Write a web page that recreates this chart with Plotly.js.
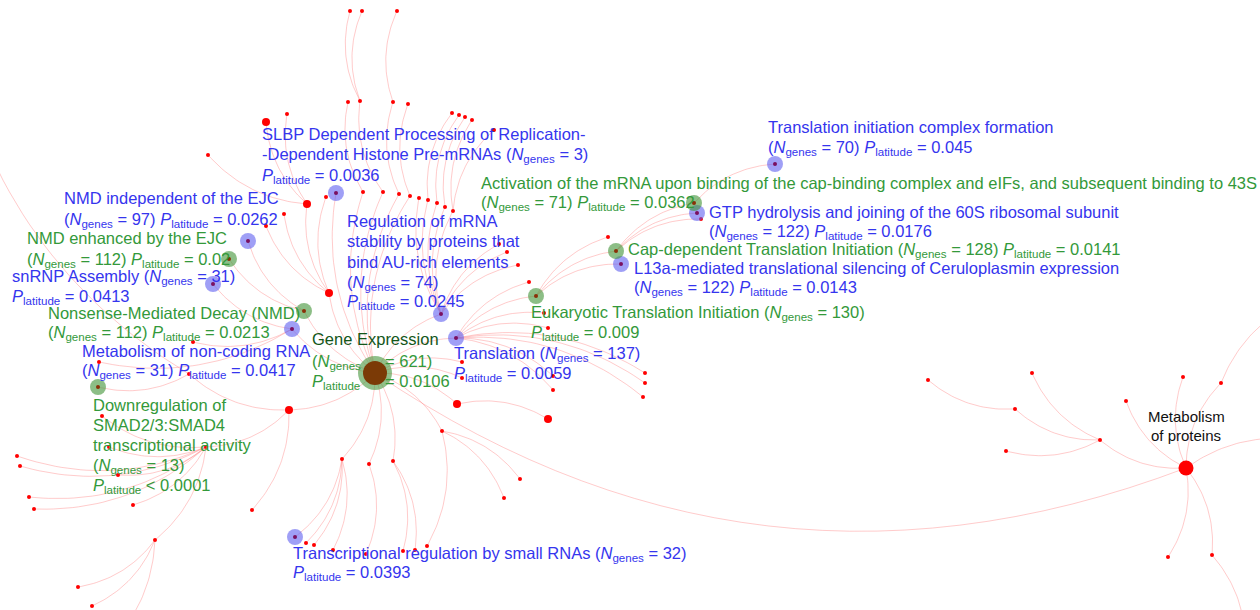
<!DOCTYPE html>
<html>
<head>
<meta charset="utf-8">
<script src="https://cdn.plot.ly/plotly-3.0.1.min.js"></script>
<style>
  html, body { margin: 0; padding: 0; background: #ffffff; }
  #chart { width: 1260px; height: 610px; }
</style>
</head>
<body>
<div id="chart"></div>
<script>
// Reactome pathway network around "Gene Expression" and "Metabolism of proteins".
// Node coordinates come from the network layout; each node lists its parent.
const nodeId = [
  'MoP','GE',
  'SLBP','NMDi','snRNP','MNC','Reg','Trl','TICF','GTP','L13a','TRS',
  'NMDe','NMD','SMAD','Act','Cap','EuTI',
  'r1','r2','A','r3','r4','r5',
  'a1','a2','b1','b2','b3',
  'p1','p2','p3','p4','q1','q2','q3','q4','t1','t2','t3',
  'g1','g2','g3','g4','g5','g6','g7','g8',
  'h1','h2','h3','h4','h5',
  'm1','m2',
  'C','D','a3','c1',
  'd1','d2','d3','d4','d5','E','d6','d7','d8',
  'e1','e2','e3',
  'B','F','G','H','s1','s2',
  'bb1','bb2','bb3','f1','gg1','gg2','hh1','hh2','hh3',
  'tr1','tr2','tr3','tr4','tr5','tr6','tr7','tr8',
  'eu1','cp1',
  'I','mp1','mp2','J','mp3','K','mp4',
  'L','i1','i2','l1','j1','k1'
];
const nodeX = [
  1186,375,
  336,248,213,292,441,456,775,697,621,295,
  229,304,98,694,616,536,
  307,329,289,266,457,548,
  287,208,284,266,326,
  363,383,399,410,348,360,393,408,350,362,397,
  419,428,437,445,453,499,507,518,
  452,459,465,472,494,
  193,99,
  189,206,252,-40,
  17,20,29,34,133,155,109,118,102,
  78,92,105,
  342,369,393,442,462,462,
  306,314,333,366,403,415,520,504,427,
  529,544,548,553,553,645,645,643,
  608,701,
  1100,1126,1183,1221,1168,1212,1300,
  1015,1032,1006,928,1300,1245
];
const nodeY = [
  468,373,
  193,241,284,329,314,338,164,213,264,537,
  259,311,387,203,251,296,
  204,293,410,122,404,419,
  114,155,214,226,197,
  192,192,194,196,102,101,102,104,11,11,11,
  198,200,203,207,211,244,252,265,
  113,115,117,120,130,
  342,362,
  374,447,510,70,
  456,466,497,509,505,540,447,475,416,
  587,606,650,
  459,464,461,431,362,378,
  543,545,550,554,551,550,479,498,546,
  282,313,328,376,390,373,383,397,
  237,219,
  440,401,377,383,557,555,440,
  409,373,451,380,300,650
];
const nodeParent = [
  null,'MoP',
  'GE','NMD','MNC','GE','GE','GE','Act','Cap','EuTI','B',
  'NMD','GE','C','Cap','EuTI','Trl',
  'r2','GE','GE','r1','GE','r4',
  'r1','r1','r2','r2','r2',
  'GE','GE','GE','GE','p1','p2','p3','p4','q2','q2','q3',
  'Reg','Reg','Reg','Reg','Reg','Reg','Reg','Reg',
  'g2','g3','g4','g5','g5',
  'MNC','MNC',
  'A','A','A','C',
  'D','D','D','D','D','D','D','D','D',
  'E','E','E',
  'GE','GE','GE','GE','GE','GE',
  'B','B','B','F','G','G','H','H','H',
  'Trl','Trl','Trl','Trl','Trl','Trl','Trl','Trl',
  'EuTI','Cap',
  'MoP','MoP','MoP','MoP','MoP','MoP','MoP',
  'I','I','I','L','J','K'
];
// Node type: root / hub / enriched (blue or green) / large or small unlabelled node
const nodeKind = [
  'root','hub',
  'blue','blue','blue','blue','blue','blue','blue','blue','blue','blue',
  'green','green','green','green','green','green',
  'big','big','big','big','big','big'
];
for (let i = nodeKind.length; i < nodeId.length; i++) nodeKind.push('small');

// Pathway labels, one entry per text line
const labelText = [
  'SLBP Dependent Processing of Replication-',
  '-Dependent Histone Pre-mRNAs (<i>N</i><sub>genes</sub> = 3)',
  '<i>P</i><sub>latitude</sub> = 0.0036',
  'NMD independent of the EJC',
  '(<i>N</i><sub>genes</sub> = 97) <i>P</i><sub>latitude</sub> = 0.0262',
  'NMD enhanced by the EJC',
  '(<i>N</i><sub>genes</sub> = 112) <i>P</i><sub>latitude</sub> = 0.02',
  'snRNP Assembly (<i>N</i><sub>genes</sub> = 31)',
  '<i>P</i><sub>latitude</sub> = 0.0413',
  'Nonsense-Mediated Decay (NMD)',
  '(<i>N</i><sub>genes</sub> = 112) <i>P</i><sub>latitude</sub> = 0.0213',
  'Metabolism of non-coding RNA',
  '(<i>N</i><sub>genes</sub> = 31) <i>P</i><sub>latitude</sub> = 0.0417',
  'Downregulation of',
  'SMAD2/3:SMAD4',
  'transcriptional activity',
  '(<i>N</i><sub>genes</sub> = 13)',
  '<i>P</i><sub>latitude</sub> &lt; 0.0001',
  'Gene Expression',
  '(<i>N</i><sub>genes</sub>',
  '= 621)',
  '<i>P</i><sub>latitude</sub>',
  '= 0.0106',
  'Regulation of mRNA',
  'stability by proteins that',
  'bind AU-rich elements',
  '(<i>N</i><sub>genes</sub> = 74)',
  '<i>P</i><sub>latitude</sub> = 0.0245',
  'Translation (<i>N</i><sub>genes</sub> = 137)',
  '<i>P</i><sub>latitude</sub> = 0.0059',
  'Eukaryotic Translation Initiation (<i>N</i><sub>genes</sub> = 130)',
  '<i>P</i><sub>latitude</sub> = 0.009',
  'Cap-dependent Translation Initiation (<i>N</i><sub>genes</sub> = 128) <i>P</i><sub>latitude</sub> = 0.0141',
  'L13a-mediated translational silencing of Ceruloplasmin expression',
  '(<i>N</i><sub>genes</sub> = 122) <i>P</i><sub>latitude</sub> = 0.0143',
  'GTP hydrolysis and joining of the 60S ribosomal subunit',
  '(<i>N</i><sub>genes</sub> = 122) <i>P</i><sub>latitude</sub> = 0.0176',
  'Activation of the mRNA upon binding of the cap-binding complex and eIFs, and subsequent binding to 43S',
  '(<i>N</i><sub>genes</sub> = 71) <i>P</i><sub>latitude</sub> = 0.0362',
  'Translation initiation complex formation',
  '(<i>N</i><sub>genes</sub> = 70) <i>P</i><sub>latitude</sub> = 0.045',
  'Transcriptional regulation by small RNAs (<i>N</i><sub>genes</sub> = 32)',
  '<i>P</i><sub>latitude</sub> = 0.0393',
  'Metabolism',
  'of proteins'
];
const labelGroup = [
  'b','b','b','b','b','g','g','b','b','g','g','b','b',
  'g','g','g','g','g',
  'd','g','g','g','g',
  'b','b','b','b','b','b','b',
  'g','g','g','b','b','b','b','g','g','b','b','b','b',
  'k','k'
];

// Label placement (left edge, line centre) in layout pixels
const labelPos = [
  [260,134],[260,155],[260,176],
  [62,198],[62,220],
  [25,238],[25,260],
  [10,277],[10,297],
  [46,313],[46,333],
  [80,351],[80,371],
  [91,405],[91,425],[91,445],[91,466],[91,486],
  [310,339],[310,362],[383,361],[310,382],[383,381],
  [345,221],[345,241],[345,262],[345,283],[345,302],
  [452,354],[452,374],
  [529,313],[529,333],
  [626,250],
  [632,268],[632,288],
  [707,212],[707,232],
  [479,183],[479,203],
  [766,127],[766,148],
  [291,554],[291,573],
  [1186,416],[1186,435]
];

const idx = {};
nodeId.forEach((id, i) => { idx[id] = i; });

// Curved edges: quadratic Bezier from parent to child, bent to one side
const BEND = 0.2;
const ex = [], ey = [];
nodeId.forEach((id, i) => {
  const p = nodeParent[i];
  if (p === null) return;
  const j = idx[p];
  const x0 = nodeX[j], y0 = nodeY[j], x2 = nodeX[i], y2 = nodeY[i];
  const dx = x2 - x0, dy = y2 - y0;
  const k = id === 'GE' ? 0.26 : BEND;
  const cx = (x0 + x2) / 2 + k * dy, cy = (y0 + y2) / 2 - k * dx;
  for (let s = 0; s <= 30; s++) {
    const t = s / 30, u = 1 - t;
    ex.push(u * u * x0 + 2 * u * t * cx + t * t * x2);
    ey.push(u * u * y0 + 2 * u * t * cy + t * t * y2);
  }
  ex.push(null); ey.push(null);
});

function pick(kind) {
  const xs = [], ys = [], names = [];
  nodeId.forEach((id, i) => {
    if (nodeKind[i] === kind) { xs.push(nodeX[i]); ys.push(nodeY[i]); names.push(id); }
  });
  return { xs, ys, names };
}
const small = pick('small'), big = pick('big'), blue = pick('blue'),
      green = pick('green'), hub = pick('hub'), root = pick('root');

const traces = [
  { x: ex, y: ey, mode: 'lines', line: { color: 'rgba(255,130,130,0.42)', width: 1 }, hoverinfo: 'skip' },
  { x: small.xs, y: small.ys, mode: 'markers', marker: { color: '#ff0000', size: 4 }, text: small.names },
  { x: big.xs, y: big.ys, mode: 'markers', marker: { color: '#ff0000', size: 8 }, text: big.names },
  { x: blue.xs, y: blue.ys, mode: 'markers', marker: { color: 'rgba(90,90,240,0.58)', size: 16 }, text: blue.names },
  { x: blue.xs, y: blue.ys, mode: 'markers', marker: { color: '#7a1060', size: 4 }, hoverinfo: 'skip' },
  { x: green.xs, y: green.ys, mode: 'markers', marker: { color: 'rgba(70,150,60,0.62)', size: 16 }, text: green.names },
  { x: green.xs, y: green.ys, mode: 'markers', marker: { color: '#8a3008', size: 4 }, hoverinfo: 'skip' },
  { x: hub.xs, y: hub.ys, mode: 'markers', marker: { color: 'rgba(70,150,60,0.6)', size: 34 }, hoverinfo: 'skip' },
  { x: hub.xs, y: hub.ys, mode: 'markers', marker: { color: '#7b3a06', size: 24 }, text: hub.names },
  { x: root.xs, y: root.ys, mode: 'markers', marker: { color: '#ff0000', size: 15 }, text: root.names }
];

const colours = { b: '#3535ee', g: '#33993a', d: '#14561a', k: '#111111' };
const annotations = labelText.map((t, i) => ({
  x: labelPos[i][0], y: labelPos[i][1], xref: 'x', yref: 'y',
  text: t, showarrow: false,
  xanchor: labelGroup[i] === 'k' ? 'center' : 'left', yanchor: 'middle',
  font: { family: 'Liberation Sans, Arial, sans-serif', size: labelGroup[i] === 'k' ? 15 : 16.5, color: colours[labelGroup[i]] }
}));

const layout = {
  width: 1260, height: 610,
  margin: { l: 0, r: 0, t: 0, b: 0 },
  paper_bgcolor: '#ffffff', plot_bgcolor: '#ffffff',
  showlegend: false,
  xaxis: { range: [0, 1260], visible: false, fixedrange: true },
  yaxis: { range: [610, 0], visible: false, fixedrange: true },
  annotations: annotations
};

Plotly.newPlot('chart', traces, layout, { staticPlot: true });
</script>
</body>
</html>
